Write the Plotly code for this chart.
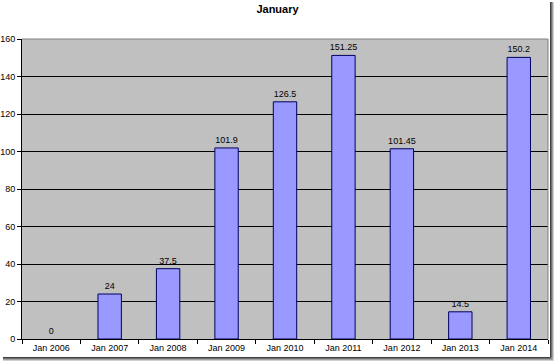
import plotly.graph_objects as go

categories = ["Jan 2006", "Jan 2007", "Jan 2008", "Jan 2009", "Jan 2010",
              "Jan 2011", "Jan 2012", "Jan 2013", "Jan 2014"]
values = [0, 24, 37.5, 101.9, 126.5, 151.25, 101.45, 14.5, 150.2]
labels = ["0", "24", "37.5", "101.9", "126.5", "151.25", "101.45", "14.5", "150.2"]
y_ticks = [0, 20, 40, 60, 80, 100, 120, 140, 160]

FONT = "Liberation Sans, Arial, sans-serif"

fig = go.Figure(go.Bar(
    x=categories, y=values, text=labels, textposition="outside",
    textfont=dict(size=9, color="black", family=FONT),
    constraintext="none",
    marker=dict(color="#9999FF",
                line=dict(color="#000060", width=[0 if v == 0 else 1 for v in values])),
    width=0.4, cliponaxis=False,
))

fig.update_layout(
    width=555, height=361,
    margin=dict(l=22, r=7, t=39, b=22, autoexpand=False),
    paper_bgcolor="white", plot_bgcolor="#C0C0C0",
    font=dict(family=FONT, size=9, color="black"),
    title=dict(text="<b>January</b>", x=0.5, xanchor="center",
               y=1 - 9 / 361, yanchor="middle", yref="container",
               font=dict(size=11, family=FONT, color="black")),
    showlegend=False,
    bargap=0.6,
)
fig.update_xaxes(
    showline=True, linecolor="black", linewidth=1,
    ticks="outside", tickson="boundaries", ticklen=4, tickcolor="black",
    showgrid=False, tickfont=dict(size=9), fixedrange=True, automargin=False,
)
fig.update_yaxes(
    range=[0, 160], tickvals=y_ticks,
    showline=True, linecolor="black", linewidth=1,
    ticks="outside", ticklen=4, tickcolor="black",
    showgrid=True, gridcolor="black", gridwidth=1,
    zeroline=False, tickfont=dict(size=9), automargin=False,
)

# plot-area border (gray) on top and right
fig.add_shape(type="line", xref="paper", yref="paper", x0=0, x1=1, y0=1, y1=1,
              line=dict(color="#808080", width=1))
fig.add_shape(type="line", xref="paper", yref="paper", x0=1, x1=1, y0=0, y1=1,
              line=dict(color="#808080", width=1))

# drop-shadow frame at right and bottom of the image
PW, PH = 555 - 22 - 7, 361 - 39 - 22
for i, c in enumerate(["#404040", "#707070", "#A0A0A0", "#D0D0D0"]):
    xs = (550.5 + i - 22) / PW
    ys = (339 - (357.5 + i)) / PH
    fig.add_shape(type="line", xref="paper", yref="paper",
                  x0=xs, x1=xs, y0=(339 - 2) / PH, y1=ys,
                  line=dict(color=c, width=1))
    fig.add_shape(type="line", xref="paper", yref="paper",
                  x0=(3 - 22) / PW, x1=xs, y0=ys, y1=ys,
                  line=dict(color=c, width=1))

fig.write_html("out.html", config={"displayModeBar": False, "staticPlot": True},
               post_script="document.body.style.margin='0';document.body.style.overflow='hidden';")
